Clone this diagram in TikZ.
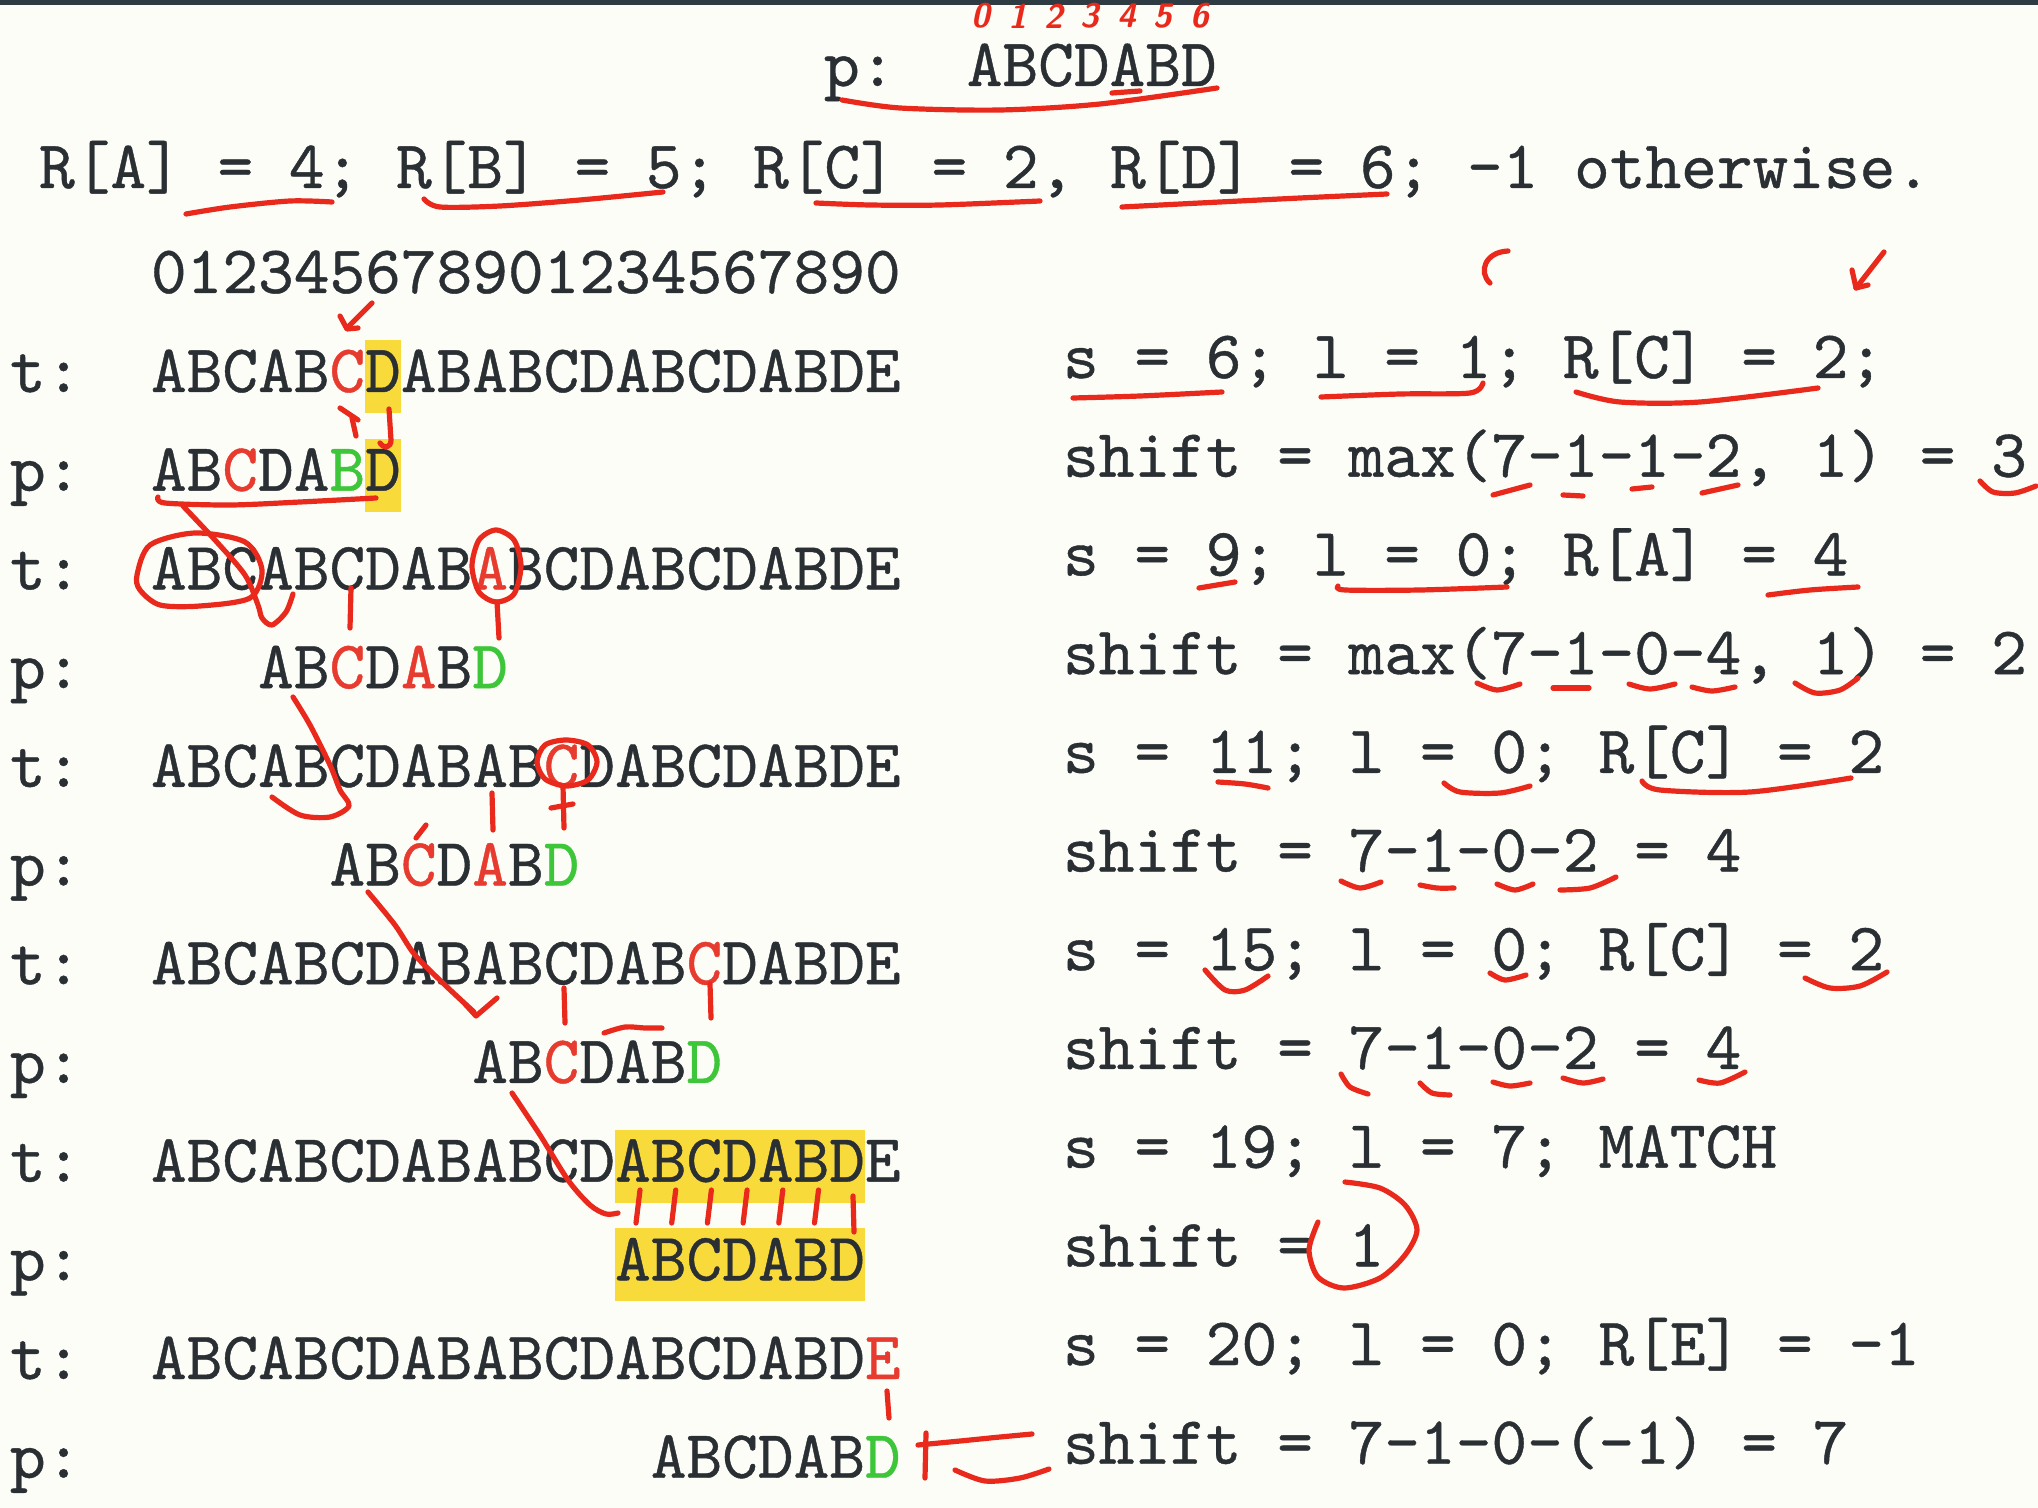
\documentclass[tikz,border=0pt]{standalone}
\usepackage{fontspec}
\setmonofont{lmmono10-regular.otf}[FakeBold=0.6]
\definecolor{bg}{HTML}{FDFDF7}
\definecolor{ink}{HTML}{2A2F34}
\definecolor{tred}{HTML}{E63B2E}
\definecolor{tgreen}{HTML}{3EC63A}
\definecolor{hl}{HTML}{F8DB3A}
\definecolor{hred}{HTML}{E8291C}
\definecolor{topbar}{HTML}{2E3B42}
\newcommand{\rc}[1]{\textcolor{tred}{#1}}
\newcommand{\gc}[1]{\textcolor{tgreen}{#1}}
\newcommand{\monof}{\fontsize{34}{40}\selectfont\ttfamily}
\newlength{\cwl}
\begin{document}
\frenchspacing
\settowidth{\cwl}{\monof A}
\begin{tikzpicture}[x=0.5pt,y=-0.5pt,
  txt/.style={anchor=base west, inner sep=0pt, outer sep=0pt, text=ink, font=\monof},
  idx/.style={inner sep=0pt, text=hred, font=\fontsize{17}{18}\selectfont\sffamily\bfseries\itshape},
  hand/.style={draw=hred, line width=2.6pt, line cap=round, line join=round}]
\pgfmathsetmacro{\cw}{2*\cwl}
\pgfmathsetmacro{\xo}{151}
\useasboundingbox (0,0) rectangle (2038,1508);
\fill[bg] (0,0) rectangle (2038,1508);
\fill[topbar] (0,0) rectangle (2038,5);

% highlights
\fill[hl] ({\xo+6*\cw},340) rectangle ({\xo+7*\cw},413);
\fill[hl] ({\xo+6*\cw},439) rectangle ({\xo+7*\cw},512);
\fill[hl] ({\xo+13*\cw},1130) rectangle ({\xo+20*\cw},1203);
\fill[hl] ({\xo+13*\cw},1228) rectangle ({\xo+20*\cw},1301);

% header
\node[txt] (hp) at (824,86) {p:};
\node[txt] (hpat) at ({824+4*\cw},86) {ABCDABD};
\foreach \i in {0,...,6} \node[idx] (ix\i) at ({824+(4.4+1.02*\i)*\cw},16) {\i};
\node[txt] (rdef) at (39,188) {R[A] = 4; R[B] = 5; R[C] = 2, R[D] = 6; -1 otherwise.};
\node[txt] (digits) at (\xo,293) {012345678901234567890};

% left labels
\foreach \k/\l in {0/t,1/p,2/t,3/p,4/t,5/p,6/t,7/p,8/t,9/p,10/t,11/p}
  \node[txt] (lab\k) at (10,{392+98.7*\k}) {\l:};

% left rows
\node[txt] (t1) at (\xo,392) {ABCAB\rc{C}DABABCDABCDABDE};
\node[txt] (p1) at (\xo,490.7) {AB\rc{C}DA\gc{B}D};
\node[txt] (t2) at (\xo,589.4) {ABCABCDAB\rc{A}BCDABCDABDE};
\node[txt] (p2) at ({\xo+3*\cw},688.1) {AB\rc{C}D\rc{A}B\gc{D}};
\node[txt] (t3) at (\xo,786.8) {ABCABCDABAB\rc{C}DABCDABDE};
\node[txt] (p3) at ({\xo+5*\cw},885.5) {AB\rc{C}D\rc{A}B\gc{D}};
\node[txt] (t4) at (\xo,984.2) {ABCABCDABABCDAB\rc{C}DABDE};
\node[txt] (p4) at ({\xo+9*\cw},1082.9) {AB\rc{C}DAB\gc{D}};
\node[txt] (t5) at (\xo,1181.6) {ABCABCDABABCDABCDABDE};
\node[txt] (p5) at ({\xo+13*\cw},1280.3) {ABCDABD};
\node[txt] (t6) at (\xo,1379) {ABCABCDABABCDABCDABD\rc{E}};
\node[txt] (p6) at ({\xo+14*\cw},1477.7) {ABCDAB\gc{D}};

% right column
\node[txt] (r1) at (1063,378) {s = 6; l = 1; R[C] = 2;};
\node[txt] (r2) at (1063,476.7) {shift = max(7-1-1-2, 1) = 3};
\node[txt] (r3) at (1063,575.4) {s = 9; l = 0; R[A] = 4};
\node[txt] (r4) at (1063,674.1) {shift = max(7-1-0-4, 1) = 2};
\node[txt] (r5) at (1063,772.8) {s = 11; l = 0; R[C] = 2};
\node[txt] (r6) at (1063,871.5) {shift = 7-1-0-2 = 4};
\node[txt] (r7) at (1063,970.2) {s = 15; l = 0; R[C] = 2};
\node[txt] (r8) at (1063,1068.9) {shift = 7-1-0-2 = 4};
\node[txt] (r9) at (1063,1167.6) {s = 19; l = 7; MATCH};
\node[txt] (r10) at (1063,1266.3) {shift = 1};
\node[txt] (r11) at (1063,1365) {s = 20; l = 0; R[E] = -1};
\node[txt] (r12) at (1063,1463.7) {shift = 7-1-0-(-1) = 7};

% ---------- handwriting ----------
% top
\draw[hand] plot[smooth] coordinates {(842,100) (900,108) (1000,110) (1100,104) (1217,88)};
\draw[hand] (1112,93) -- (1140,91);
% R row
\draw[hand] plot[smooth] coordinates {(186,214) (230,207) (290,201) (332,202)};
\draw[hand] plot[smooth] coordinates {(424,199) (440,207) (500,206) (580,200) (663,192)};
\draw[hand] plot[smooth] coordinates {(816,203) (870,205) (940,205) (1040,201)};
\draw[hand] plot[smooth] coordinates {(1122,207) (1200,203) (1300,198) (1387,194)};
% t1 arrow
\draw[hand] (372,303) -- (347,328);
\draw[hand] (340,316) -- (347,329) -- (358,328);
% between t1 and p1
\draw[hand] (340,408) -- (358,420);
\draw[hand] (352,418) -- (356,436);
\draw[hand] (389,409) -- (391,440) .. controls (391,448) and (384,449) .. (380,443);
% p1 underline and stroke to t2
\draw[hand] plot[smooth] coordinates {(158,497) (165,503) (230,505) (300,502) (376,498)};
\draw[hand] plot[smooth] coordinates {(183,506) (215,540) (245,575) (258,605) (262,618) (272,625) (286,612) (293,594)};
% circle t2 ABC
\draw[hand] plot[smooth cycle] coordinates {(137,575) (150,545) (195,533) (245,542) (262,570) (250,598) (200,606) (160,605) (140,590)};
% t2 ticks and circle
\draw[hand] (351,588) -- (350,628);
\draw[hand] plot[smooth cycle] coordinates {(496,530) (514,540) (521,566) (514,594) (496,602) (479,592) (472,566) (479,540)};
\draw[hand] (497,602) -- (499,638);
% p2 to t3
\draw[hand] plot[smooth] coordinates {(293,697) (310,725) (330,765) (340,790) (349,806) (330,817) (300,815) (272,797)};
% t3 circle C
\draw[hand] plot[smooth cycle] coordinates {(566,740) (588,745) (597,762) (588,780) (566,786) (545,779) (537,762) (545,745)};
\draw[hand] (563,786) -- (564,828);
\draw[hand] (551,808) -- (573,804);
\draw[hand] (492,793) -- (493,830);
\draw[hand] (416,838) -- (426,825);
% p3 to t4
\draw[hand] plot[smooth] coordinates {(368,892) (395,925) (415,955) (445,985) (474,1012)};
\draw[hand] (465,1004) -- (476,1016) -- (497,998);
% t4 ticks
\draw[hand] (564,988) -- (565,1023);
\draw[hand] (710,984) -- (711,1018);
\draw[hand] plot[smooth] coordinates {(604,1033) (625,1027) (645,1028) (662,1028)};
% p4 to t5
\draw[hand] plot[smooth] coordinates {(512,1093) (540,1135) (568,1180) (590,1205) (606,1214) (618,1213)};
% match ticks
\foreach \x in {637,672.7,708.4,744.1,779.8,815.5} \draw[hand] (\x+3,1190) -- (\x-1,1223);
\draw[hand] (853,1196) -- (854,1232);
% E tick
\draw[hand] (887,1391) -- (889,1418);
% mark after p6
\draw[hand] (926,1433) -- (925,1478);
\draw[hand] plot[smooth] coordinates {(918,1445) (960,1441) (1000,1437) (1032,1434)};
\draw[hand] plot[smooth] coordinates {(955,1470) (985,1481) (1020,1478) (1049,1469)};

% right column marks
\draw[hand] (1508,251) .. controls (1485,252) and (1478,272) .. (1490,283);
\draw[hand] (1884,252) -- (1856,288);
\draw[hand] (1852,270) -- (1856,288) -- (1868,285);
\draw[hand] plot[smooth] coordinates {(1073,398) (1140,396) (1222,392)};
\draw[hand] plot[smooth] coordinates {(1321,397) (1400,394) (1470,393) (1483,383)};
\draw[hand] plot[smooth] coordinates {(1576,392) (1620,402) (1700,402) (1818,388)};
% row2
\draw[hand] (1493,495) -- (1530,485);
\draw[hand] (1563,495) -- (1583,496);
\draw[hand] (1632,489) -- (1652,487);
\draw[hand] (1702,493) -- (1738,485);
\draw[hand] plot[smooth] coordinates {(1980,481) (1993,492) (2015,493) (2036,486)};
% row3
\draw[hand] (1199,588) -- (1235,582);
\draw[hand] plot[smooth] coordinates {(1338,586) (1345,590) (1420,590) (1507,587)};
\draw[hand] plot[smooth] coordinates {(1768,595) (1810,590) (1858,587)};
% row4
\draw[hand] plot[smooth] coordinates {(1477,683) (1497,690) (1520,684)};
\draw[hand] (1553,688) -- (1589,688);
\draw[hand] plot[smooth] coordinates {(1629,684) (1650,689) (1675,684)};
\draw[hand] plot[smooth] coordinates {(1692,687) (1712,691) (1735,687)};
\draw[hand] plot[smooth] coordinates {(1795,683) (1815,693) (1840,690) (1858,678)};
% row5
\draw[hand] plot[smooth] coordinates {(1218,782) (1245,784) (1268,788)};
\draw[hand] plot[smooth] coordinates {(1444,783) (1460,792) (1500,793) (1530,786)};
\draw[hand] plot[smooth] coordinates {(1642,781) (1660,790) (1750,792) (1851,778)};
% row6
\draw[hand] plot[smooth] coordinates {(1341,881) (1360,888) (1381,882)};
\draw[hand] plot[smooth] coordinates {(1420,885) (1437,888) (1454,888)};
\draw[hand] plot[smooth] coordinates {(1497,884) (1515,890) (1533,884)};
\draw[hand] plot[smooth] coordinates {(1560,890) (1590,888) (1616,877)};
% row7
\draw[hand] plot[smooth] coordinates {(1205,970) (1225,990) (1245,990) (1268,976)};
\draw[hand] plot[smooth] coordinates {(1490,973) (1505,980) (1526,975)};
\draw[hand] plot[smooth] coordinates {(1805,978) (1830,988) (1860,986) (1887,972)};
% row8
\draw[hand] plot[smooth] coordinates {(1341,1074) (1350,1087) (1368,1094)};
\draw[hand] plot[smooth] coordinates {(1420,1083) (1432,1093) (1450,1095)};
\draw[hand] plot[smooth] coordinates {(1493,1082) (1510,1086) (1530,1083)};
\draw[hand] plot[smooth] coordinates {(1563,1078) (1583,1083) (1603,1079)};
\draw[hand] plot[smooth] coordinates {(1699,1080) (1720,1083) (1745,1072)};
% circle around 1
\draw[hand] plot[smooth] coordinates {(1318,1222) (1309,1250) (1318,1277) (1344,1288) (1380,1278) (1405,1255) (1417,1230) (1405,1205) (1380,1188) (1345,1182)};
\end{tikzpicture}
\end{document}
